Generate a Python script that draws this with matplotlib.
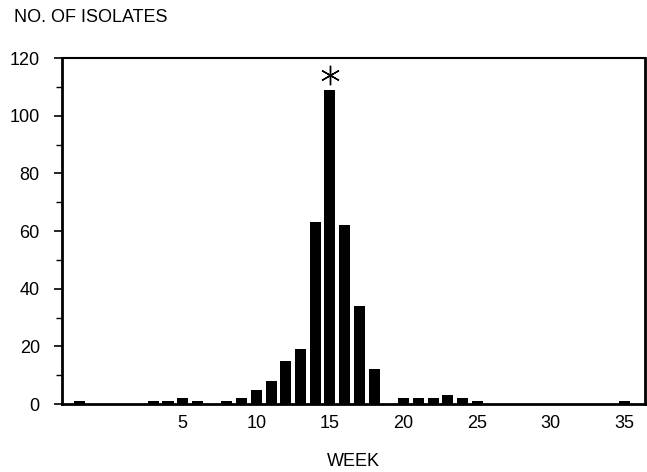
import matplotlib

matplotlib.use("Agg")
import matplotlib.pyplot as plt
from matplotlib.ticker import MultipleLocator

FONT: str = "Liberation Sans"
TICK_FONT_SIZE: float = 13
LABEL_FONT_SIZE: float = 13

weeks: list[int] = [-2, 3, 4, 5, 6, 8, 9, 10, 11, 12, 13, 14, 15, 16, 17, 18,
                    20, 21, 22, 23, 24, 25, 35]
isolates: list[int] = [1, 1, 1, 2, 1, 1, 2, 5, 8, 15, 19, 63, 109, 62, 34, 12,
                       2, 2, 2, 3, 2, 1, 1]
peak_week: int = 15
peak_marker_y: float = 114
x_ticks: list[int] = [5, 10, 15, 20, 25, 30, 35]
y_ticks: list[int] = [0, 20, 40, 60, 80, 100, 120]

plt.rcParams["font.family"] = [FONT, "DejaVu Sans"]

fig = plt.figure(figsize=(6.47, 4.72), dpi=100)
ax = fig.add_axes([0.0958, 0.144, 0.9012, 0.733])

ax.bar(weeks, isolates, width=0.75, color="black", edgecolor="black", linewidth=0)
ax.plot([peak_week], [peak_marker_y], marker=(6, 2, 0), markersize=14,
        markeredgewidth=1.0, color="black", linestyle="none")

ax.set_xlim(-3.2, 36.4)
ax.set_ylim(0, 120)
ax.set_xticks(x_ticks)
ax.set_yticks(y_ticks)
ax.yaxis.set_minor_locator(MultipleLocator(10))

ax.tick_params(axis="x", length=0, pad=8, labelsize=TICK_FONT_SIZE)
ax.tick_params(axis="y", which="major", direction="out", length=6, width=1.2,
               pad=10, labelsize=TICK_FONT_SIZE)
ax.tick_params(axis="y", which="minor", direction="out", length=4, width=1.0)

for side in ["left", "bottom", "right"]:
    ax.spines[side].set_linewidth(2.0)
ax.spines["top"].set_linewidth(1.5)

fig.text(0.021, 0.962, "NO. OF ISOLATES", fontsize=LABEL_FONT_SIZE,
         ha="left", va="center")
fig.text(0.546, 0.022, "WEEK", fontsize=LABEL_FONT_SIZE, ha="center",
         va="center")

fig.savefig("out.png", dpi=100)
plt.close(fig)
